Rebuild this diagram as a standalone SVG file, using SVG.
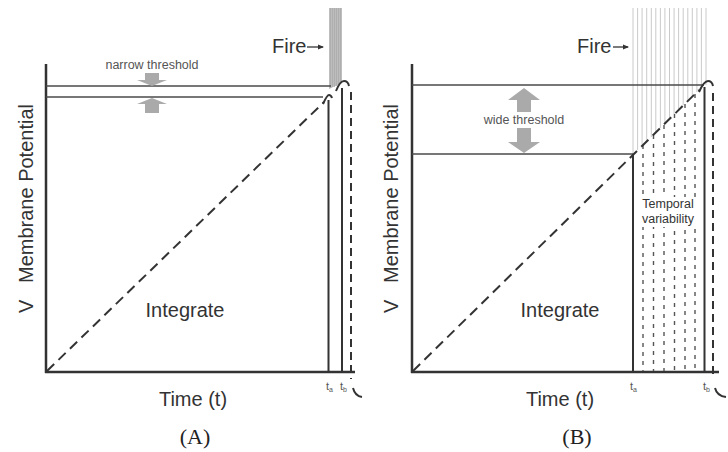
<svg xmlns="http://www.w3.org/2000/svg" width="728" height="452" viewBox="0 0 728 452">
<style>
.ax{stroke:#333;stroke-width:2.5;fill:none}
.th{stroke:#4a4a4a;stroke-width:1.6;fill:none}
.vl{stroke:#333;stroke-width:2;fill:none}
.dd{stroke:#333;stroke-width:2;stroke-dasharray:10 6;fill:none}
.dv{stroke:#333;stroke-width:2;stroke-dasharray:8 5;fill:none}
.sd{stroke:#555;stroke-width:1.4;stroke-dasharray:4 5;fill:none}
.gl{stroke:#c4c4c4;stroke-width:0.9}
.ga{fill:#aaaaaa}
.lbl{font-family:"Liberation Sans",Arial,sans-serif;fill:#333}
.big{font-size:20px}
.sm{font-size:12.5px;fill:#555}
.tk{font-size:11px;fill:#555}
.cap{font-family:"Liberation Serif","Times New Roman",serif;font-size:22px;fill:#222}
</style>
<defs>
<marker id="ah" markerWidth="6" markerHeight="6" refX="5" refY="3" orient="auto" markerUnits="userSpaceOnUse">
<path d="M0,0.5 L6,3 L0,5.5 Z" fill="#333"/>
</marker>
</defs>
<rect width="728" height="452" fill="#fff"/>

<g id="panelA">
  <g id="A-fire-bar">
    <polygon points="329,8 342,8 342,83 329,89" fill="#bdbdbd"/>
    <g stroke="#a8a8a8" stroke-width="0.7">
      <line x1="330.5" y1="8" x2="330.5" y2="88"/>
      <line x1="332.5" y1="8" x2="332.5" y2="87"/>
      <line x1="334.5" y1="8" x2="334.5" y2="87"/>
      <line x1="336.5" y1="8" x2="336.5" y2="86"/>
      <line x1="338.5" y1="8" x2="338.5" y2="85"/>
      <line x1="340.5" y1="8" x2="340.5" y2="84"/>
    </g>
  </g>
  <g id="A-axes">
    <line class="ax" x1="46" y1="64" x2="46" y2="373"/>
    <line class="ax" x1="45" y1="372" x2="355" y2="372"/>
  </g>
  <g id="A-thresholds">
    <line class="th" x1="46" y1="86" x2="331" y2="86"/>
    <line class="th" x1="46" y1="97" x2="323" y2="97"/>
    <polygon class="ga" points="145,73 159,73 159,80 167,80 152,86 137,80 145,80"/>
    <polygon class="ga" points="152,98 167,104 159,104 159,113 145,113 145,104 137,104"/>
    <text class="lbl sm" x="152" y="69" text-anchor="middle">narrow threshold</text>
  </g>
  <g id="A-traces">
    <line class="dd" x1="47" y1="371" x2="324" y2="102"/>
    <path class="vl" d="M328.5,373 V100"/>
    <path class="vl" d="M323,104 Q327,95 329,95 Q331,95 332,98"/>
    <path class="vl" d="M342,373 V88"/>
    <path class="vl" d="M336,91 Q340,81 344,81 Q348,81 349,86"/>
    <line class="dv" x1="351" y1="92" x2="351" y2="379"/>
    <path class="vl" d="M353,388 Q355,396 362,397"/>
  </g>
  <g id="A-labels">
    <text class="lbl big" x="272" y="53">Fire</text>
    <line x1="307" y1="47" x2="323" y2="47" stroke="#333" stroke-width="1.3" marker-end="url(#ah)"/>
    <text class="lbl big" transform="translate(33,283) rotate(-90)" font-size="20.5">Membrane Potential</text>
    <text class="lbl big" transform="translate(33,313) rotate(-90)">V</text>
    <text class="lbl big" x="185" y="317" text-anchor="middle">Integrate</text>
    <text class="lbl big" x="193" y="406" text-anchor="middle">Time (t)</text>
    <text class="lbl tk" x="326" y="390">t<tspan font-size="7" dy="2">a</tspan></text>
    <text class="lbl tk" x="340" y="390">t<tspan font-size="7" dy="2">b</tspan></text>
    <text class="cap" x="195" y="444" text-anchor="middle">(A)</text>
  </g>
</g>

<g id="panelB">
  <g id="B-fire-lines" class="gl">
    <line x1="633" y1="8" x2="633" y2="155"/>
    <line x1="637.6" y1="8" x2="637.6" y2="150"/>
    <line x1="642.1" y1="8" x2="642.1" y2="146"/>
    <line x1="646.7" y1="8" x2="646.7" y2="141"/>
    <line x1="651.3" y1="8" x2="651.3" y2="137"/>
    <line x1="655.8" y1="8" x2="655.8" y2="132"/>
    <line x1="660.4" y1="8" x2="660.4" y2="128"/>
    <line x1="664.9" y1="8" x2="664.9" y2="123"/>
    <line x1="669.5" y1="8" x2="669.5" y2="119"/>
    <line x1="674.1" y1="8" x2="674.1" y2="114"/>
    <line x1="678.6" y1="8" x2="678.6" y2="110"/>
    <line x1="683.2" y1="8" x2="683.2" y2="105"/>
    <line x1="687.8" y1="8" x2="687.8" y2="101"/>
    <line x1="692.3" y1="8" x2="692.3" y2="96"/>
    <line x1="696.9" y1="8" x2="696.9" y2="92"/>
    <line x1="701.4" y1="8" x2="701.4" y2="88"/>
    <line x1="706" y1="8" x2="706" y2="85"/>
  </g>
  <g id="B-axes">
    <line class="ax" x1="412" y1="64" x2="412" y2="373"/>
    <line class="ax" x1="411" y1="372" x2="719" y2="372"/>
  </g>
  <g id="B-thresholds">
    <line class="th" x1="412" y1="85" x2="704" y2="85"/>
    <line class="th" x1="412" y1="154" x2="633" y2="154"/>
    <polygon class="ga" points="524,88 540,100 531,100 531,112 517,112 517,100 508,100"/>
    <polygon class="ga" points="517,128 531,128 531,142 540,142 524,153 508,142 517,142"/>
    <text class="lbl sm" x="524" y="124" text-anchor="middle">wide threshold</text>
  </g>
  <g id="B-variability">
    <line class="sd" x1="643" y1="145" x2="643" y2="371"/>
    <line class="sd" x1="653.5" y1="135" x2="653.5" y2="371"/>
    <line class="sd" x1="664" y1="125" x2="664" y2="371"/>
    <line class="sd" x1="674.5" y1="114" x2="674.5" y2="371"/>
    <line class="sd" x1="685" y1="104" x2="685" y2="371"/>
    <line class="sd" x1="695" y1="94" x2="695" y2="371"/>
    <rect x="639" y="197" width="60" height="30" fill="#fff"/>
    <text class="lbl" font-size="12.5" x="668" y="208" text-anchor="middle" fill="#444">Temporal</text>
    <text class="lbl" font-size="12.5" x="668" y="223" text-anchor="middle" fill="#444">variability</text>
  </g>
  <g id="B-traces">
    <line class="dd" x1="413" y1="371" x2="699" y2="90"/>
    <path class="vl" d="M633,373 V154"/>
    <path class="vl" d="M704.5,373 V87"/>
    <path class="vl" d="M699,92 Q704,81 708,81 Q712,81 713,86"/>
    <line class="dv" x1="713" y1="93" x2="713" y2="379"/>
    <path class="vl" d="M715,388 Q717,396 726,397"/>
  </g>
  <g id="B-labels">
    <text class="lbl big" x="577" y="53">Fire</text>
    <line x1="613" y1="47" x2="628" y2="47" stroke="#333" stroke-width="1.3" marker-end="url(#ah)"/>
    <text class="lbl big" transform="translate(398,283) rotate(-90)" font-size="20.5">Membrane Potential</text>
    <text class="lbl big" transform="translate(398,313) rotate(-90)">V</text>
    <text class="lbl big" x="560" y="317" text-anchor="middle">Integrate</text>
    <text class="lbl big" x="560" y="406" text-anchor="middle">Time (t)</text>
    <text class="lbl tk" x="630" y="390">t<tspan font-size="7" dy="2">a</tspan></text>
    <text class="lbl tk" x="703" y="390">t<tspan font-size="7" dy="2">b</tspan></text>
    <text class="cap" x="577" y="444" text-anchor="middle">(B)</text>
  </g>
</g>
</svg>
